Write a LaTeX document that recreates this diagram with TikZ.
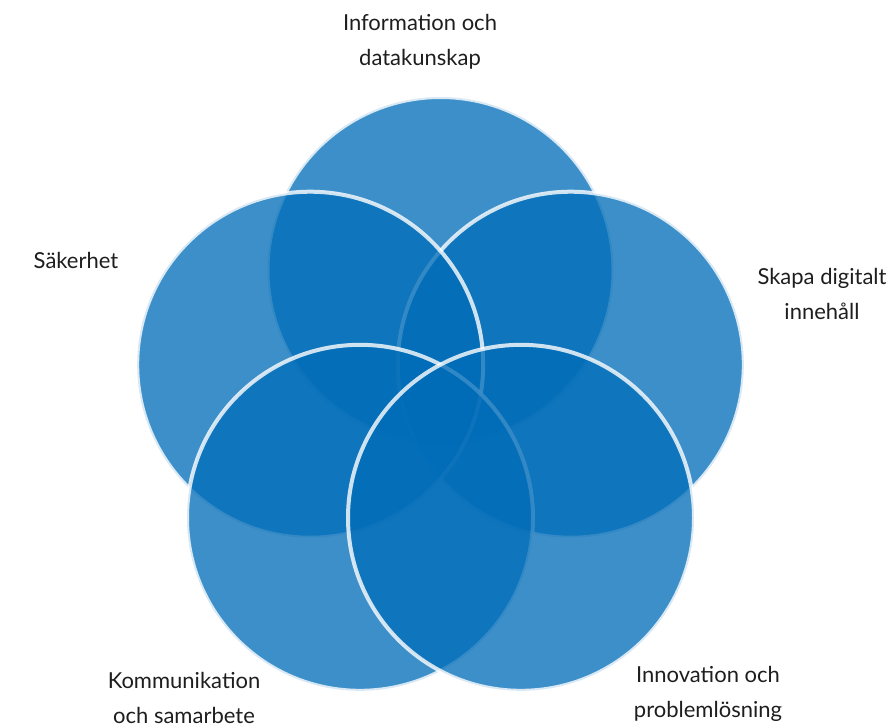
\documentclass[tikz,border=0pt]{standalone}
\usepackage{fontspec}
\setmainfont{Lato}
\usepackage{tikz}
\usetikzlibrary{positioning, calc}

\definecolor{vennblue}{RGB}{0,108,184}
\definecolor{labeltext}{RGB}{30,30,30}

\begin{document}
\begin{tikzpicture}[x=1pt, y=-1pt,
    venn/.style={circle, minimum size=346pt, inner sep=0pt,
        fill=vennblue, fill opacity=0.76,
        draw=white, draw opacity=0.8, line width=4pt},
    area/.style={align=center, text=labeltext, inner sep=0pt,
        font=\fontsize{22}{35}\selectfont}]
    \useasboundingbox (0,0) rectangle (896,724);

    %--- circle centres (regular pentagon) ---
    \coordinate (cInfo)  at (440.5,270);
    \coordinate (cSkapa) at (570.8,364.7);
    \coordinate (cSak)   at (310.2,364.7);
    \coordinate (cKomm)  at (360,517.8);
    \coordinate (cInnov) at (521,517.8);

    %--- circles, back to front ---
    \node[venn] (info)  at (cInfo)  {};
    \node[venn] (skapa) at (cSkapa) {};
    \node[venn] (sak)   at (cSak)   {};
    \node[venn] (komm)  at (cKomm)  {};
    \node[venn] (innov) at (cInnov) {};

    %--- labels ---
    \node[area] (lInfo)  at (420,42)  {Information och\\datakunskap};
    \node[area] (lSak)   at (76,260)  {Säkerhet};
    \node[area] (lSkapa) at (822,294) {Skapa digitalt\\innehåll};
    \node[area] (lKomm)  at (184,698) {Kommunikation\\och samarbete};
    \node[area] (lInnov) at (708,694) {Innovation och\\problemlösning};
\end{tikzpicture}
\end{document}
